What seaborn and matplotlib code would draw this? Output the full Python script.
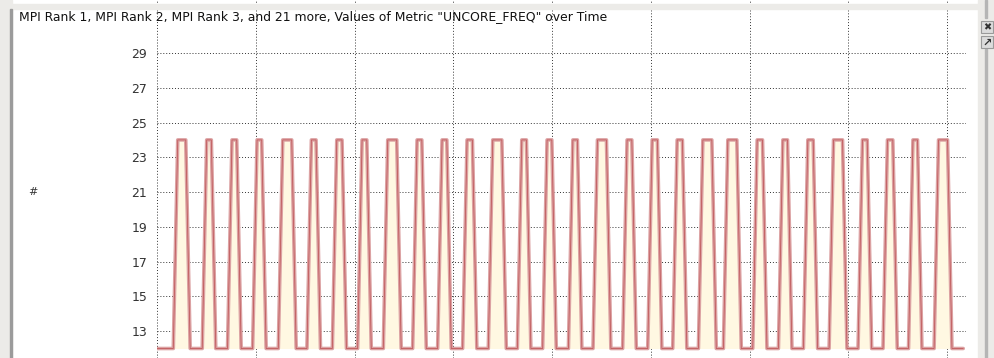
#!/usr/bin/env python3
"""UNCORE_FREQ over time, redrawn from a profiler screenshot."""

import numpy as np
import pandas as pd
import matplotlib
matplotlib.use("Agg")
import matplotlib.pyplot as plt
from matplotlib.patches import Rectangle
import seaborn as sns

# Values (time in s, one grid column = 1 s)
low_value = 12.0
high_value = 24.0
ramp = 0.045          # time between a low sample and the next high one
t_start = 0.0
t_end = 8.162

# start / end of the flat top of each of the 30 pulses
pulse_up = [0.210, 0.503, 0.759, 1.013, 1.273, 1.563, 1.820, 2.076, 2.336, 2.633,
            2.886, 3.139, 3.399, 3.693, 3.949, 4.210, 4.459, 4.759, 5.013, 5.266,
            5.526, 5.779, 6.076, 6.336, 6.589, 6.849, 7.142, 7.395, 7.653, 7.912]
pulse_down = [0.291, 0.550, 0.807, 1.060, 1.364, 1.610, 1.873, 2.124, 2.427, 2.681,
              2.934, 3.193, 3.491, 3.740, 3.997, 4.256, 4.550, 4.807, 5.066, 5.319,
              5.617, 5.870, 6.130, 6.383, 6.643, 6.940, 7.190, 7.449, 7.699, 8.003]

y_ticks = [13, 15, 17, 19, 21, 23, 25, 27, 29]
title = 'MPI Rank 1, MPI Rank 2, MPI Rank 3, and 21 more, Values of Metric "UNCORE_FREQ" over Time'

# sample points of the metric
times = [t_start]
values = [low_value]
for up, down in zip(pulse_up, pulse_down):
    times += [up - ramp, up, down, down + ramp]
    values += [low_value, high_value, high_value, low_value]
times.append(t_end)
values.append(low_value)
df = pd.DataFrame({"time": times, "freq": values})

sns.set_style("white")
plt.rcParams["font.family"] = ["DejaVu Sans"]

W, H = 994, 358
fig = plt.figure(figsize=(W / 100, H / 100), dpi=100)

# axes in pixel terms of the screenshot
left, right, top, bottom = 157, 966, 0, 358
ax = fig.add_axes([left / W, 1 - bottom / H, (right - left) / W, (bottom - top) / H])

px_per_unit = (348.5 - 53) / 17
ax.set_ylim(low_value - (bottom - 348.5) / px_per_unit, 29 + (53 - top) / px_per_unit)
ax.set_xlim(0, 8.19)

ax.fill_between(df["time"], low_value, df["freq"], color="#fff8e2", lw=0, zorder=1)
sns.lineplot(data=df, x="time", y="freq", ax=ax, estimator=None, sort=False,
             color="#dca2a3", lw=2.6, zorder=3)
sns.lineplot(data=df, x="time", y="freq", ax=ax, estimator=None, sort=False,
             color="#c05a5c", lw=0.6, zorder=4)

ax.set_yticks(y_ticks)
ax.set_xticks(np.arange(0, 9))
ax.set_xticklabels([])
ax.tick_params(axis="y", length=0, pad=7, labelsize=9, labelcolor="#333333")
ax.tick_params(axis="x", length=0)
ax.set_xlabel("")
ax.set_ylabel("")
ax.grid(True, color="#333333", lw=0.7, linestyle=(0, (1, 2)), zorder=2)
for s in ax.spines.values():
    s.set_visible(False)

# window chrome around the chart
def px_rect(x0, y0, x1, y1, **kw):
    fig.patches.append(Rectangle((x0 / W, 1 - y1 / H), (x1 - x0) / W, (y1 - y0) / H,
                                 transform=fig.transFigure, figure=fig, **kw))

px_rect(4, 4, 978, 9, color="#ecebe8", zorder=10)
px_rect(0, 0, 12, H, color="#ecebe8", zorder=10)
px_rect(10, 9, 12, H, color="#9b9b9b", zorder=11)
px_rect(978, 0, W, H, color="#ecebe8", zorder=10)
px_rect(985, 0, 987, 18, color="#b5b5b5", zorder=11)
px_rect(985, 49, 987, H, color="#b5b5b5", zorder=11)
px_rect(981, 21, 993, 33, facecolor="#dcdcdc", edgecolor="#9a9a9a", lw=0.8, zorder=11)
px_rect(981, 36, 993, 48, facecolor="#dcdcdc", edgecolor="#9a9a9a", lw=0.8, zorder=11)
fig.text(987 / W, 1 - 27.5 / H, "\u2716", fontsize=7, ha="center", va="center",
         color="#333333", zorder=12)
fig.text(987 / W, 1 - 42.5 / H, "\u2197", fontsize=8, ha="center", va="center",
         color="#333333", fontweight="bold", zorder=12)

fig.text(19 / W, 1 - 17 / H, title, fontsize=8.9, ha="left", va="center",
         color="#111111", zorder=12)
fig.text(33 / W, 1 - 192 / H, "#", fontsize=8, ha="center", va="center", color="#333333")

fig.savefig("out.png", dpi=100)
